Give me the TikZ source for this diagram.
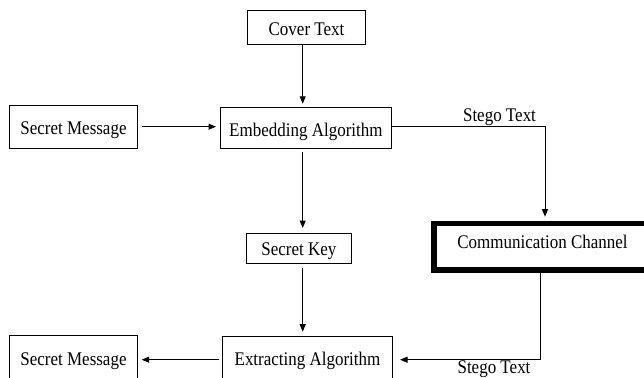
\documentclass[tikz,border=0pt]{standalone}
\usepackage{fontspec}
\setmainfont{Liberation Serif}[FakeStretch=0.88]
\usetikzlibrary{arrows.meta}
\begin{document}
\begin{tikzpicture}[x=1pt,y=-1pt,
  txt/.style={font=\fontsize{19.3}{22}\selectfont},
  box/.style={draw, line width=1pt, inner sep=0pt, txt, text depth=0pt},
  thickbox/.style={draw, line width=5.7pt, inner sep=0pt, txt, text depth=0pt},
  arr/.style={-{Triangle[length=7.5pt,width=6pt]}, line width=1pt},
  lbl/.style={txt, inner sep=0pt, anchor=base}]
\useasboundingbox (0,0) rectangle (644,377);
\clip (0,0) rectangle (644,377);
\node[box, minimum width=118.4pt, minimum height=34pt, text height=15.4pt] (cover) at (306.5,28) {Cover Text};
\node[box, minimum width=128.4pt, minimum height=43.3pt, text height=14.6pt] (sm1) at (73.5,126.7) {Secret Message};
\node[box, minimum width=171.7pt, minimum height=41pt, text height=17.8pt] (emb) at (305.9,127.8) {Embedding Algorithm};
\node[box, minimum width=105.7pt, minimum height=30pt, text height=13.4pt] (key) at (298.9,248.3) {Secret Key};
\node[thickbox, minimum width=217.2pt, minimum height=46.3pt, text height=4.4pt] (comm) at (542.5,246.7) {Communication Channel};
\node[box, minimum width=170.4pt, minimum height=46pt, text height=10.6pt] (ext) at (307.5,359.7) {Extracting Algorithm};
\node[box, minimum width=128.4pt, minimum height=46pt, text height=14pt] (sm2) at (73.5,358) {Secret Message};
\draw[arr, shorten >=3pt] ([xshift=-3.8pt]cover.south) -- ([xshift=-3.2pt]emb.north);
\draw[arr, shorten <=3.8pt, shorten >=3.5pt] (sm1.east) -- (sm1.east -| emb.west);
\draw[arr, shorten <=3pt, shorten >=4.8pt] ([xshift=-3.2pt]emb.south) -- ([xshift=3.8pt]key.north);
\draw[arr, shorten >=4pt] ([yshift=1.5pt]emb.east) -| ([xshift=2.5pt]comm.north);
\draw[arr, shorten <=4pt, shorten >=4.5pt] ([xshift=3.8pt]key.south) -- ([xshift=-4.8pt]ext.north);
\draw[arr, shorten <=2.5pt, shorten >=3.5pt] (ext.west) -- (ext.west -| sm2.east);
\draw[arr, shorten >=6.8pt] ([xshift=-1.8pt]comm.south) |- (ext.east);
\node[lbl] (st1) at (499.5,121.7) {Stego Text};
\node[lbl] (st2) at (494,373.3) {Stego Text};
\end{tikzpicture}
\end{document}
